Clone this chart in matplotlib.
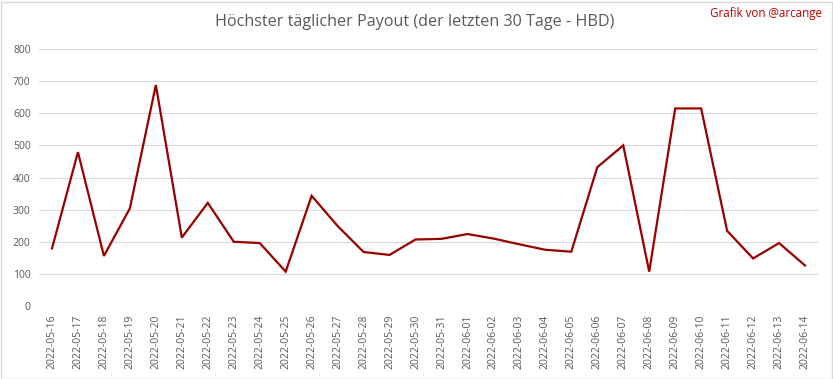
import matplotlib
matplotlib.use("Agg")
import matplotlib.pyplot as plt

dates = [
    "2022-05-16", "2022-05-17", "2022-05-18", "2022-05-19", "2022-05-20",
    "2022-05-21", "2022-05-22", "2022-05-23", "2022-05-24", "2022-05-25",
    "2022-05-26", "2022-05-27", "2022-05-28", "2022-05-29", "2022-05-30",
    "2022-05-31", "2022-06-01", "2022-06-02", "2022-06-03", "2022-06-04",
    "2022-06-05", "2022-06-06", "2022-06-07", "2022-06-08", "2022-06-09",
    "2022-06-10", "2022-06-11", "2022-06-12", "2022-06-13", "2022-06-14",
]
payout = [
    179, 479, 156, 304, 688, 213, 321, 200, 196, 107,
    343, 249, 168, 159, 207, 209, 224, 210, 192, 175,
    169, 432, 500, 107, 615, 615, 234, 148, 196, 126,
]
yticks = [0, 100, 200, 300, 400, 500, 600, 700, 800]

TEXT = "#595959"
plt.rcParams["font.family"] = ["Open Sans", "DejaVu Sans"]

fig = plt.figure(figsize=(8.33, 3.79), dpi=100)
ax = fig.add_axes([39 / 833, 1 - 306 / 379, 779 / 833, 257 / 379])

xs = list(range(len(dates)))
ax.plot(xs, payout, color="#990000", linewidth=1.6, solid_joinstyle="miter")

ax.set_xlim(-0.5, len(dates) - 0.5)
ax.set_ylim(0, 800)
ax.set_yticks(yticks)
ax.set_yticklabels([str(v) for v in yticks], color=TEXT, fontsize=7.5)
ax.set_xticks(xs)
ax.set_xticklabels(dates, rotation=90, color=TEXT, fontsize=7.5)
ax.tick_params(length=0, pad=6)
ax.grid(axis="y", color="#d9d9d9", linewidth=0.8)
ax.set_axisbelow(True)
for s in ax.spines.values():
    s.set_visible(False)

fig.text(415 / 833, 1 - 22 / 379, "Höchster täglicher Payout (der letzten 30 Tage - HBD)",
         ha="center", va="center", color=TEXT, fontsize=11.6)
fig.text(822 / 833, 1 - 14 / 379, "Grafik von @arcange",
         ha="right", va="center", color="#c00000", fontsize=8.4)

border = plt.Rectangle((0.5 / 833, 0.5 / 379), 831 / 833, 377 / 379, transform=fig.transFigure,
                       fill=False, edgecolor="#d9d9d9", linewidth=1)
fig.patches.append(border)

fig.savefig("out.png", dpi=100)
